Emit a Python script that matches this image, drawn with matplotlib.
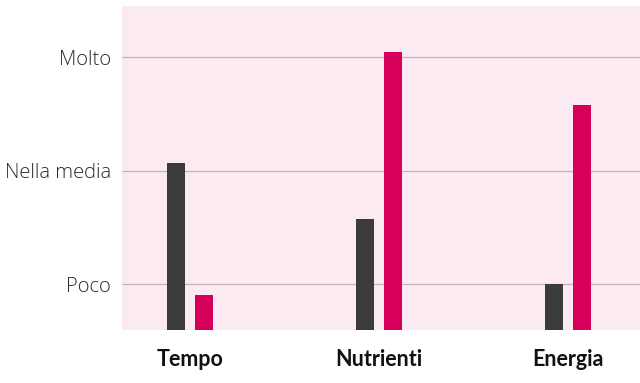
import matplotlib
matplotlib.use("Agg")
import matplotlib.pyplot as plt
import numpy as np

plt.rcParams["font.family"] = ["Lato", "DejaVu Sans"]

categories = ["Tempo", "Nutrienti", "Energia"]
serie_a = [2.07, 1.57, 1.00]   # grigio scuro
serie_b = [0.90, 3.05, 2.58]   # rosa
tick_vals = [1, 2, 3]
tick_labels = ["Poco", "Nella media", "Molto"]

fig = plt.figure(figsize=(6.4, 3.83), dpi=100)
ax = fig.add_axes([0.1906, 0.1384, 0.8094, 0.8456])
ax.set_facecolor("#fbeaf1")

x = np.arange(len(categories))
w = 0.095
off = 0.074
ax.bar(x - off, serie_a, width=w, color="#3b3b3b", zorder=3)
ax.bar(x + off, serie_b, width=w, color="#d6005a", zorder=3)

ax.set_ylim(0.595, 3.45)
ax.set_xlim(-0.36, 2.38)
ax.set_yticks(tick_vals)
ax.set_yticklabels(tick_labels, fontsize=14.5, family=["Open Sans", "DejaVu Sans"],
                   fontweight="light", color="#2a2a2a")
ax.set_xticks(x)
ax.set_xticklabels(categories, fontsize=15.5, fontweight="bold", color="#111111")
ax.tick_params(axis="y", length=0, pad=8)
ax.tick_params(axis="x", length=0, pad=14)
ax.grid(axis="y", color="#c9b0ba", lw=0.9, zorder=1)
for s in ax.spines.values():
    s.set_visible(False)

fig.savefig("out.png", dpi=100)
